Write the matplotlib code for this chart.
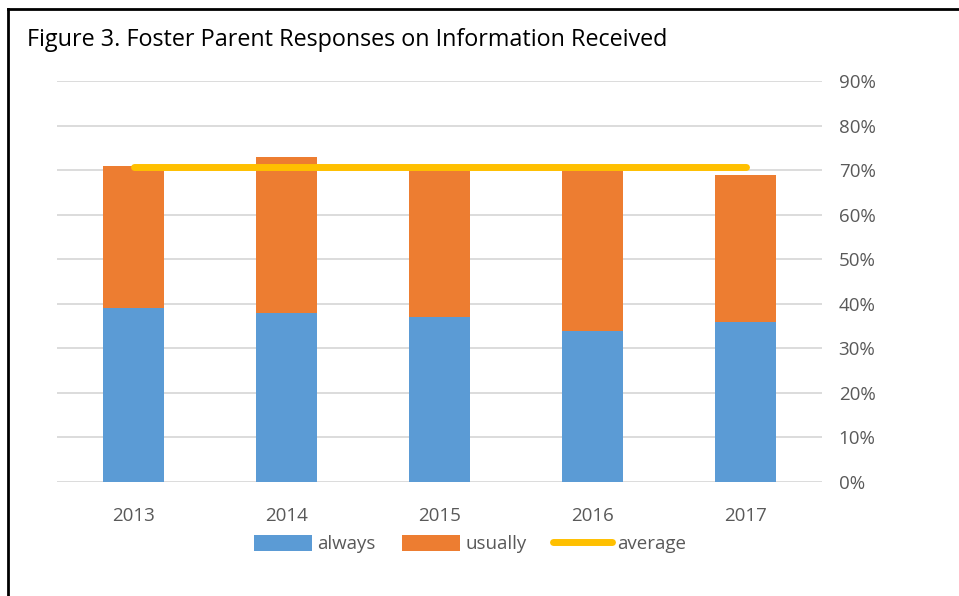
import numpy as np
import matplotlib.pyplot as plt
from matplotlib.lines import Line2D

years = ['2013', '2014', '2015', '2016', '2017']
always = [39, 38, 37, 34, 36]
usually = [32, 35, 33, 36, 33]
average = [70.7, 70.7, 70.7, 70.7, 70.7]
yticks = [0, 10, 20, 30, 40, 50, 60, 70, 80, 90]

plt.rcParams['font.family'] = ['Open Sans', 'DejaVu Sans']

fig = plt.figure(figsize=(9.59, 5.96), dpi=100)
ax = fig.add_axes([57/959, 1 - 482/596, (822 - 57)/959, (482 - 81)/596])

x = np.arange(len(years))
b1 = ax.bar(x, always, width=0.4, color='#5b9bd5', label='always', zorder=2)
b2 = ax.bar(x, usually, width=0.4, bottom=always, color='#ed7d31', label='usually', zorder=2)
l1, = ax.plot(x, average, color='#ffc000', lw=5, solid_capstyle='round', label='average', zorder=3)

ax.set_xlim(-0.5, 4.5)
ax.set_ylim(0, 90)
ax.set_yticks(yticks)
ax.set_yticklabels([f'{v}%' for v in yticks])
ax.yaxis.tick_right()
ax.set_xticks(x)
ax.set_xticklabels(years)
ax.grid(axis='y', color='#d9d9d9', lw=1.3, zorder=0)
ax.tick_params(length=0, labelsize=13.5, colors='#595959')
ax.tick_params(axis='y', pad=12)
ax.tick_params(axis='x', pad=18)
for s in ax.spines.values():
    s.set_visible(False)

ax.legend([b1, b2, l1], ['always', 'usually', 'average'],
          loc='center', bbox_to_anchor=(470/959, 1 - 544/596), bbox_transform=fig.transFigure,
          ncol=3, frameon=False, fontsize=13.5, labelcolor='#595959',
          handlelength=3.1, handleheight=1.0, handletextpad=0.3, columnspacing=1.4)

fig.text(27/959, 1 - 40/596, 'Figure 3. Foster Parent Responses on Information Received',
         fontsize=16.8, va='center', ha='left', color='black')

fig.add_artist(Line2D([8/959, 8/959], [0, 1 - 9/596], color='black', lw=2))
fig.add_artist(Line2D([8/959, 1], [1 - 9/596, 1 - 9/596], color='black', lw=2))

fig.savefig('out.png', dpi=100)
